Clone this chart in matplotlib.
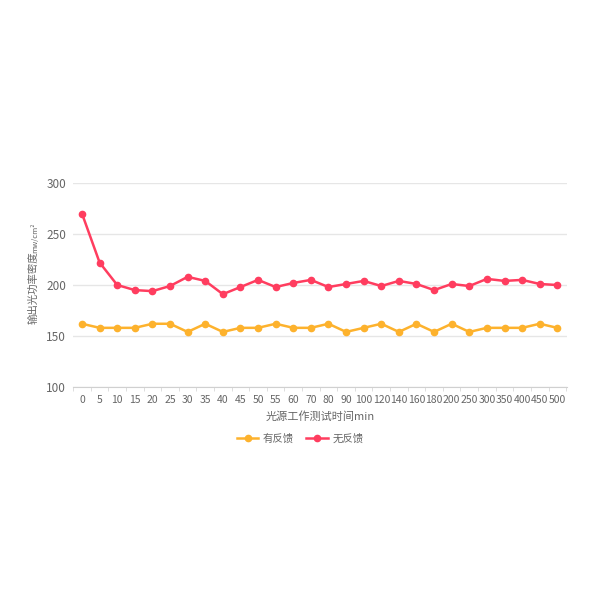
import matplotlib.pyplot as plt
import numpy as np

plt.rcParams['font.family'] = ['Noto Sans CJK SC', 'DejaVu Sans']

# 测试时间 (min)
times = ['0', '5', '10', '15', '20', '25', '30', '35', '40', '45', '50', '55', '60', '70',
         '80', '90', '100', '120', '140', '160', '180', '200', '250', '300', '350', '400',
         '450', '500']

# 有反馈
with_fb = [162, 158, 158, 158, 162, 162, 154, 162, 154, 158, 158, 162, 158, 158,
           162, 154, 158, 162, 154, 162, 154, 162, 154, 158, 158, 158, 162, 158]

# 无反馈
without_fb = [270, 222, 200, 195, 194, 199, 208, 204, 191, 198, 205, 198, 202, 205,
              198, 201, 204, 199, 204, 201, 195, 201, 199, 206, 204, 205, 201, 200]

orange = '#FDB22D'
red = '#FF3D5F'
grey = '#666666'

fig = plt.figure(figsize=(6, 6), dpi=100)
ax = fig.add_axes([0.122, 0.355, 0.823, 0.340])

x = np.arange(len(times))
ax.plot(x, with_fb, color=orange, lw=1.8, marker='o', ms=4.5, label='有反馈', zorder=3)
ax.plot(x, without_fb, color=red, lw=1.8, marker='o', ms=4.5, label='无反馈', zorder=3)

ax.set_ylim(100, 300)
ax.set_yticks([100, 150, 200, 250, 300])
ax.set_xlim(-0.45, len(times) - 0.45)
ax.set_xticks(x)
ax.set_xticklabels(times)
ax.set_xticks(np.arange(-0.5, len(times), 1), minor=True)

ax.grid(axis='y', color='#E6E6E6', lw=1)
ax.set_axisbelow(True)
for s in ['top', 'right', 'left']:
    ax.spines[s].set_visible(False)
ax.spines['bottom'].set_color('#D0D0D0')

ax.tick_params(axis='y', length=0, labelsize=8.5, labelcolor=grey, pad=5)
ax.tick_params(axis='x', which='major', length=0, labelsize=7.5, labelcolor=grey, pad=6)
ax.tick_params(axis='x', which='minor', length=3, color='#D8D8D8')

ax.set_xlabel('光源工作测试时间min', fontsize=8, color=grey, labelpad=4)

# y 轴标题 (单位缩小)
fig.text(33 / 600, 1 - 288 / 600, '输出光功率密度', rotation=90, ha='center', va='center',
         fontsize=7.5, color=grey)
fig.text(35 / 600, 1 - 238 / 600, 'mw/cm²', rotation=90, ha='center', va='center',
         fontsize=5.5, color=grey)

fig.legend(loc='upper center', bbox_to_anchor=(0.5, 1 - 424 / 600), ncol=2, frameon=False,
           fontsize=7.5, labelcolor=grey, handlelength=2.1, handletextpad=0.4,
           columnspacing=1.2)

fig.savefig('out.png', dpi=100, facecolor='white')
